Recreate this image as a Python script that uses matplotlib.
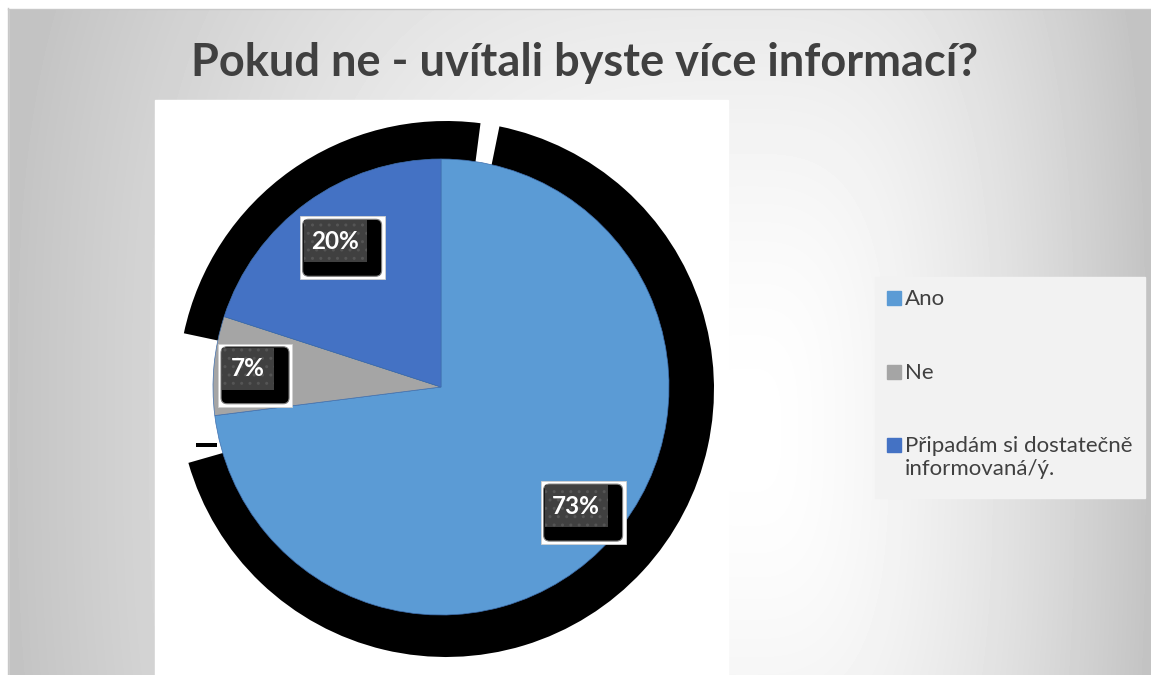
import numpy as np
import matplotlib
matplotlib.use("Agg")
import matplotlib.pyplot as plt
from matplotlib.patches import Rectangle, Wedge, FancyBboxPatch

# data
categories = ["Ano", "Ne", "Připadám si dostatečně\ninformovaná/ý."]
shares = [73, 7, 20]
colors = ["#5B9BD5", "#A5A5A5", "#4472C4"]
title = "Pokud ne - uvítali byste více informací?"

W, H = 1151, 675
plt.rcParams['font.family'] = ['Lato', 'DejaVu Sans']

fig = plt.figure(figsize=(W / 100, H / 100), dpi=100)
ax = fig.add_axes([0, 0, 1, 1])

# slide background: path gradient, white near the right of the plot area
xx, yy = np.meshgrid(np.arange(W), np.arange(H))
cx, cy = 750, 430
nx = np.where(xx < cx, (cx - xx) / 742, (xx - cx) / 400)
ny = np.abs(yy - cy) / 800
t = np.clip((nx ** 3 + ny ** 3) ** (1 / 3), 0, 1)
bg = 1 - 0.235 * t ** 1.6
ax.imshow(bg, cmap="gray", vmin=0, vmax=1, extent=(0, W, 0, H), origin="upper",
          interpolation="bilinear", zorder=0)

# white margins top/left of the slide
ax.add_patch(Rectangle((0, H - 8), W, 8, color="white", zorder=1))
ax.add_patch(Rectangle((0, 0), 8, H, color="white", zorder=1))
ax.plot([8, W], [H - 8.5, H - 8.5], color="#c8c8c8", lw=1, zorder=1)
ax.plot([8.5, 8.5], [0, H - 8], color="#c8c8c8", lw=1, zorder=1)

# plot area
ax.add_patch(Rectangle((155, 0), 573, 575, color="white", zorder=1))

# black shadow artefact behind the pie
pc = (441, 288)
R = 228
for a0, a1 in [(82.6, 168), (196, 438.5)]:
    ax.add_patch(Wedge((446, 286), 268, a0, a1, color="black", lw=0, zorder=2))
ax.add_patch(Rectangle((196, 228), 21, 4, color="black", lw=0, zorder=2))

wedges, _ = ax.pie(shares, colors=colors, startangle=90, counterclock=False,
                   center=pc, radius=R,
                   wedgeprops=dict(edgecolor="#3f6fae", linewidth=0.5, zorder=3))
for w in wedges:
    w.set_zorder(3)

# data labels
total = sum(shares)
cum = np.cumsum(shares) - np.array(shares) / 2
mid = np.deg2rad(90 - 360 * cum / total)
for v, a in zip(shares, mid):
    r = 0.85 * R if v < 10 else 0.79 * R
    lx = pc[0] + r * np.cos(a)
    ly = pc[1] + r * np.sin(a)
    txt = f"{v}%"
    gw = 30 + 11 * len(txt)
    gx0, gy0 = lx - gw / 2, ly - 21
    wx0, wx1 = gx0 - 4, gx0 + gw + 18
    wy0, wy1 = gy0 - 17, gy0 + 42 + 4
    ax.add_patch(Rectangle((wx0, wy0), wx1 - wx0, wy1 - wy0, facecolor="white",
                           edgecolor="#d0d0d0", lw=0.6, zorder=4))
    ax.add_patch(FancyBboxPatch((wx0 + 9, wy0 + 9), wx1 - wx0 - 18, wy1 - wy0 - 18,
                                boxstyle="round,pad=6", facecolor="black",
                                edgecolor="#808080", lw=0.8, zorder=5))
    ax.add_patch(Rectangle((gx0, gy0), gw, 42, facecolor="#404040",
                           edgecolor="#555555", hatch="..", lw=0, zorder=6))
    ax.text(lx, ly, txt, color="white", fontsize=17.5, fontweight="bold",
            ha="center", va="center", zorder=7)

# title
ax.text(585, 675 - 63, title, ha="center", va="center", fontsize=32.5,
        fontweight="bold", color="#404040", zorder=7)

# legend
ax.add_patch(Rectangle((875, 675 - 498), 270, 221, color="#F2F2F2", zorder=4))
leg_y = [298, 372, 445]
for lab, c, y in zip(categories, colors, leg_y):
    ax.add_patch(Rectangle((887, 675 - y - 7), 14, 14, color=c, zorder=5))
    ax.text(905, 675 - y + 9, lab, ha="left", va="top", fontsize=16, color="#404040",
            linespacing=1.2, zorder=5)

ax.set_xlim(0, W)
ax.set_ylim(0, H)
ax.axis("off")

fig.savefig("out.png", dpi=100)
